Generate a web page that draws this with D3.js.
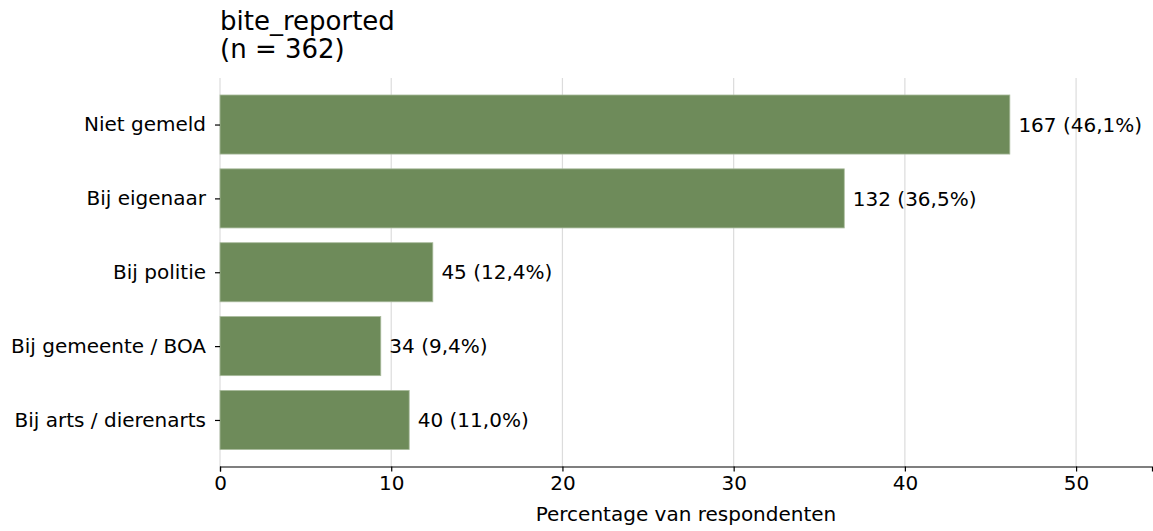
<!DOCTYPE html>
<html><head><meta charset="utf-8">
<script src="https://cdn.jsdelivr.net/npm/d3@7"></script>
<style>body{margin:0;background:#fff}svg{display:block;font-family:"DejaVu Sans",sans-serif}</style>
</head><body><div id="c"></div>
<script>
const categories = ["Niet gemeld","Bij eigenaar","Bij politie","Bij gemeente / BOA","Bij arts / dierenarts"];
const counts = [167,132,45,34,40];
const percents = [46.13,36.46,12.43,9.39,11.05];
const pctLabels = ["46,1%","36,5%","12,4%","9,4%","11,0%"];
const xTicks = [0,10,20,30,40,50];
const total = 362;
const titleLines = ["bite_reported","(n = " + total + ")"];
const xLabel = "Percentage van respondenten";

const W=1153,H=531;
const m={left:220,right:1,top:78,bottom:64.5};
const fs=20;
const svg=d3.select("#c").append("svg").attr("width",W).attr("height",H);
const iw=W-m.left-m.right, ih=H-m.top-m.bottom;
const xMax=d3.max(percents)*1.18;
const x=d3.scaleLinear().domain([0,xMax]).range([m.left,m.left+iw]);
const n=categories.length;
const pad=0.23;
const y=d3.scaleLinear().domain([-0.4-pad, n-1+0.4+pad]).range([m.top, m.top+ih]);
const bh=0.8;

const g=svg.append("g");
g.selectAll("line.grid").data(xTicks).enter().append("line")
 .attr("x1",d=>x(d)).attr("x2",d=>x(d)).attr("y1",m.top).attr("y2",m.top+ih)
 .attr("stroke","#dcdcdc").attr("stroke-width",1.2);
g.selectAll("rect").data(categories).enter().append("rect")
 .attr("x",x(0)).attr("y",(d,i)=>y(i-bh/2)).attr("width",(d,i)=>x(percents[i])-x(0))
 .attr("height",(d,i)=>y(i+bh/2)-y(i-bh/2))
 .attr("fill","#6e8b5a").attr("stroke","#a9bb9c").attr("stroke-width",0.8);
g.selectAll("text.val").data(categories).enter().append("text")
 .attr("x",(d,i)=>x(percents[i]+0.5)).attr("y",(d,i)=>y(i)).attr("dy","0.36em")
 .attr("font-size",fs).attr("fill","#000")
 .text((d,i)=>counts[i]+" ("+pctLabels[i]+")");
const xa=svg.append("g").attr("transform",`translate(0,${m.top+ih})`)
 .call(d3.axisBottom(x).tickValues(xTicks).tickSize(5).tickPadding(4).tickFormat(d3.format("d")));
xa.select(".domain").attr("stroke","#000").attr("stroke-width",1.2);
xa.selectAll(".tick line").attr("stroke","#000").attr("stroke-width",1.2);
xa.selectAll("text").attr("font-size",fs).attr("font-family","DejaVu Sans").attr("fill","#000");
const ya=svg.append("g").attr("transform",`translate(${m.left},0)`)
 .call(d3.axisLeft(y).tickValues(d3.range(n)).tickSize(5).tickPadding(9).tickFormat(i=>categories[i]));
ya.select(".domain").remove();
ya.selectAll(".tick line").attr("stroke","#000").attr("stroke-width",1.2);
ya.selectAll("text").attr("font-size",fs).attr("font-family","DejaVu Sans").attr("fill","#000");
svg.append("text").attr("x",m.left+iw/2).attr("y",521).attr("text-anchor","middle")
 .attr("font-size",fs).text(xLabel);
svg.append("text").attr("x",m.left).attr("y",30).attr("font-size",26).text(titleLines[0]);
svg.append("text").attr("x",m.left).attr("y",58).attr("font-size",26).text(titleLines[1]);
</script></body></html>
